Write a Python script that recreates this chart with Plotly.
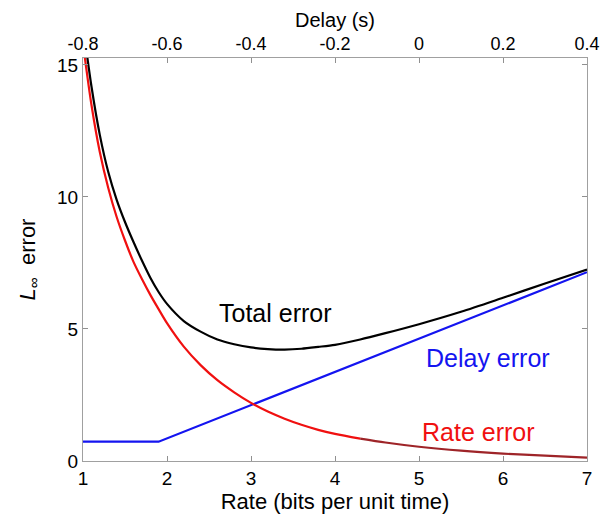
import plotly.graph_objects as go

# Rate (bits per unit time) sample points
rate = [1.0, 1.1, 1.2, 1.3, 1.4, 1.5, 1.6, 1.7, 1.8, 1.9, 2.0, 2.2, 2.4, 2.6,
        2.8, 3.0, 3.2, 3.4, 3.6, 3.8, 4.0, 4.3, 4.6, 5.0, 5.5, 6.0, 6.5, 7.0]
rate_error = [15.8, 13.5, 11.7, 10.35, 9.25, 8.35, 7.55, 6.9, 6.3, 5.75, 5.22,
              4.33, 3.63, 3.06, 2.6, 2.2, 1.87, 1.6, 1.37, 1.18, 1.03, 0.85,
              0.7, 0.54, 0.39, 0.28, 0.2, 0.13]
total_error = [16.5, 14.2, 12.35, 10.95, 9.9, 9.05, 8.3, 7.6, 6.95, 6.4, 5.95,
               5.3, 4.9, 4.6, 4.42, 4.3, 4.24, 4.22, 4.25, 4.32, 4.4, 4.6,
               4.84, 5.18, 5.65, 6.18, 6.72, 7.25]
delay_rate = [1.0, 1.9, 7.0]
delay_error = [0.73, 0.73, 7.15]

delay_ticks = [-0.8, -0.6, -0.4, -0.2, 0, 0.2, 0.4]
delay_labels = ["-0.8", "-0.6", "-0.4", "-0.2", "0", "0.2", "0.4"]

split = 21  # index of rate 4.3 where the red curve turns darker

FONT = "Liberation Sans, Arial, Helvetica, sans-serif"
RED = "#f01010"
BLUE = "#1414f0"

fig = go.Figure()
fig.add_trace(go.Scatter(x=delay_rate, y=delay_error, mode="lines",
                         line=dict(color=BLUE, width=2.2),
                         showlegend=False, hoverinfo="skip"))
fig.add_trace(go.Scatter(x=rate[:split + 1], y=rate_error[:split + 1], mode="lines",
                         line=dict(color=RED, width=2.2, shape="spline", smoothing=0.8),
                         showlegend=False, hoverinfo="skip"))
fig.add_trace(go.Scatter(x=rate[split:], y=rate_error[split:], mode="lines",
                         line=dict(color="#9e2428", width=2.2, shape="spline", smoothing=0.8),
                         showlegend=False, hoverinfo="skip"))
fig.add_trace(go.Scatter(x=rate, y=total_error, mode="lines",
                         line=dict(color="black", width=2.2, shape="spline", smoothing=0.8),
                         showlegend=False, hoverinfo="skip"))
# carrier for the top (delay) axis
fig.add_trace(go.Scatter(x=[delay_ticks[0], delay_ticks[-1]], y=[None, None],
                         xaxis="x2", mode="lines", showlegend=False,
                         hoverinfo="skip"))

axis_common = dict(showline=True, linecolor="#a0a0a0", linewidth=1.2,
                   ticks="inside", ticklen=5, tickcolor="#909090",
                   showgrid=False, zeroline=False, automargin=False,
                   tickfont=dict(family=FONT, size=19, color="black"))
top_axis = dict(axis_common, tickfont=dict(family=FONT, size=18, color="black"))

fig.update_layout(
    width=614, height=519,
    margin=dict(l=75, r=35, t=50, b=66),
    plot_bgcolor="white", paper_bgcolor="white",
    xaxis=dict(range=[1, 7], tickvals=[1, 2, 3, 4, 5, 6, 7], mirror=True,
               title=dict(text="Rate (bits per unit time)", standoff=2,
                          font=dict(family=FONT, size=22, color="black")),
               **axis_common),
    xaxis2=dict(range=[-0.8, 0.4], tickvals=delay_ticks, ticktext=delay_labels,
                overlaying="x", side="top", **top_axis),
    yaxis=dict(range=[0, 15.26], tickvals=[0, 5, 10, 15], mirror="ticks",
               title=dict(text="<i>L</i><sub>∞</sub>  error",
                          font=dict(family=FONT, size=22, color="black")),
               **axis_common),
)

# top axis title
fig.add_annotation(x=0.5, y=1.0943, xref="paper", yref="paper",
                   text="Delay (s)", showarrow=False, yanchor="middle",
                   borderpad=0,
                   font=dict(family=FONT, size=20, color="black"))

fig.add_annotation(x=3.29, y=5.6, text="Total error", showarrow=False,
                   font=dict(family=FONT, size=25, color="black"))
fig.add_annotation(x=5.82, y=3.9, text="Delay error", showarrow=False,
                   font=dict(family=FONT, size=25, color=BLUE))
fig.add_annotation(x=5.71, y=1.09, text="Rate error", showarrow=False,
                   font=dict(family=FONT, size=25, color=RED))

fig.write_html("out.html")
